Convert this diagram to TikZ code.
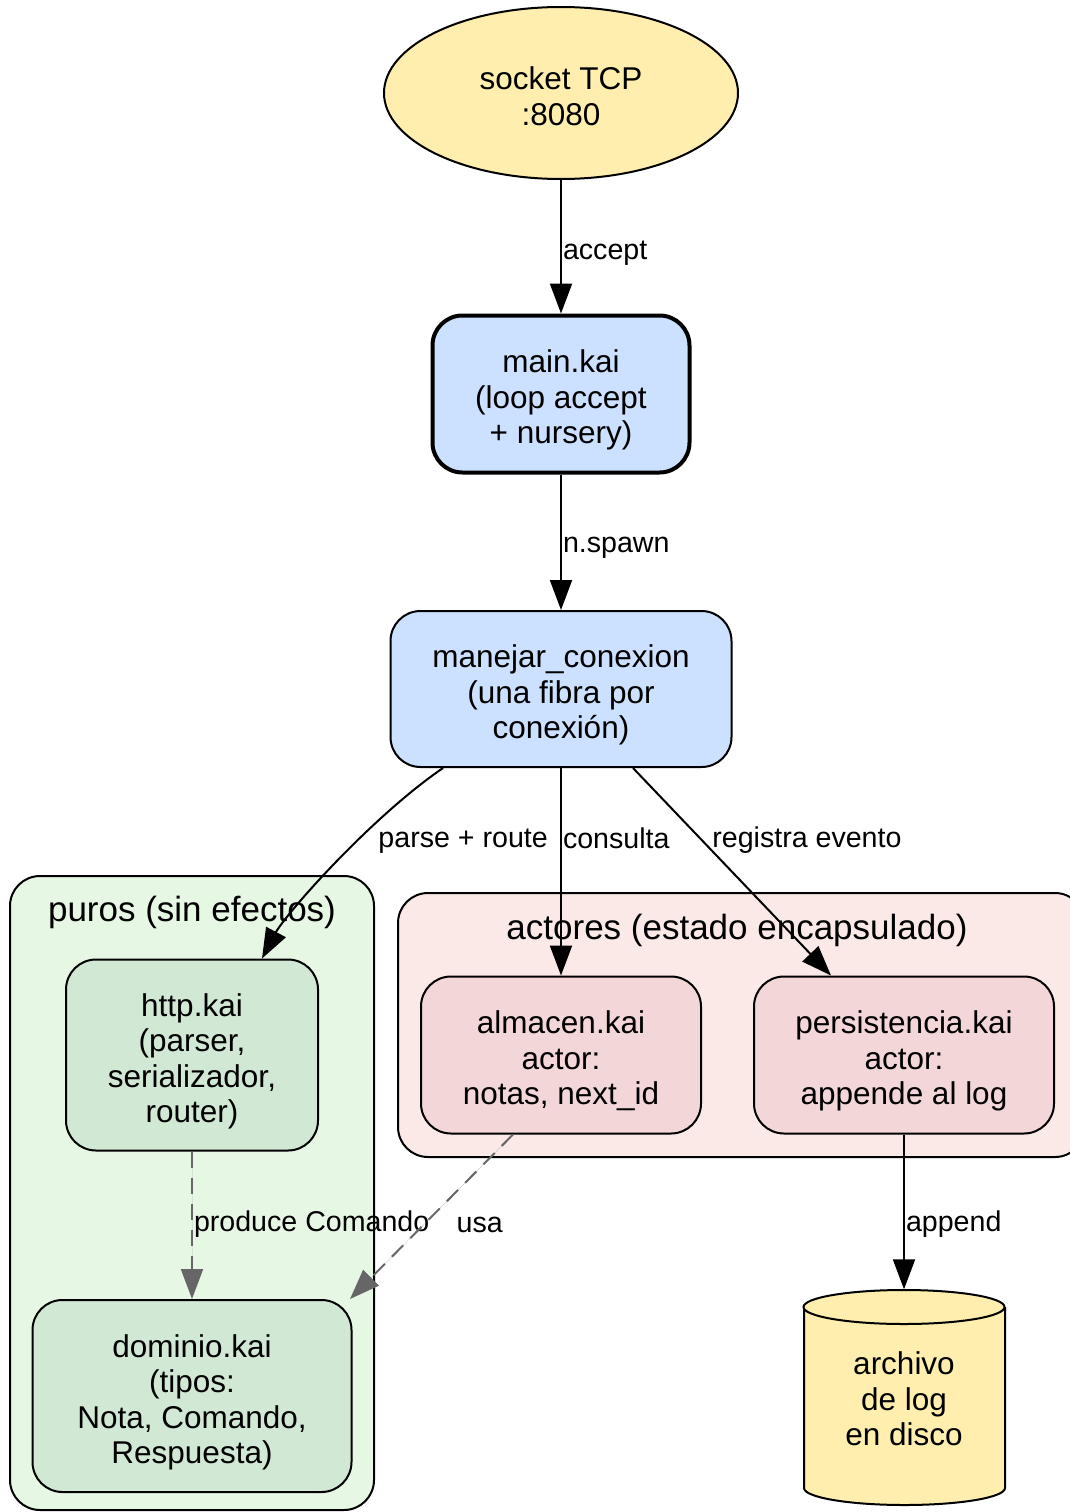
\documentclass[tikz,border=0pt]{standalone}
\usepackage{fontspec}
\setmainfont{Liberation Sans}
\usetikzlibrary{shapes.geometric,arrows.meta}
\definecolor{amarillo}{HTML}{FFEEAD}
\definecolor{azul}{HTML}{CCE0FF}
\definecolor{verdeclu}{HTML}{E6F7E4}
\definecolor{verde}{HTML}{D1E9D4}
\definecolor{rosaclu}{HTML}{FAE9E6}
\definecolor{rosa}{HTML}{F3D6D8}
\definecolor{gris}{HTML}{666666}
% baja un poco la primera linea del texto
\newcommand\alto[1][35pt]{\rule{0pt}{#1}}

\tikzset{
  txt/.style={align=center, inner sep=0pt, font=\fontsize{31.5}{35.5}\selectfont},
  mod/.style={draw, line width=2pt, rounded corners=30pt, txt},
  clu/.style={draw, line width=2pt, rounded corners=30pt},
  clutit/.style={font=\fontsize{35}{40}\selectfont, inner sep=0pt},
  lab/.style={font=\fontsize{28.6}{32}\selectfont, inner sep=1pt},
  edge/.style={line width=2pt, -{Triangle[length=30pt,width=22pt]}},
  dep/.style={edge, draw=gris, fill=gris, dash pattern=on 16pt off 10pt}
}

\begin{document}
\begin{tikzpicture}[x=1pt,y=-1pt]
\useasboundingbox (0,0) rectangle (1070,1512);
\clip (0,0) rectangle (1070,1512);
% grupos
\draw[clu, fill=verdeclu] (10,876) rectangle (374,1510);
\node[clutit] (tpuros) at (192,912) {puros (sin efectos)};
\draw[clu, fill=rosaclu] (398,893) rectangle (1085,1157);
\node[clutit] (tactores) at (737,930) {actores (estado encapsulado)};

% nodos
\node[ellipse, draw, line width=2pt, fill=amarillo, minimum width=354pt, minimum height=172pt,
  txt] (sock) at (561,93) {\alto[29pt]socket TCP\\:8080};
\node[mod, fill=azul, line width=4pt, minimum width=257pt, minimum height=157pt] (mainkai) at (561,394) {\alto main.kai\\(loop accept\\+ nursery)};
\node[mod, fill=azul, minimum width=341pt, minimum height=156pt] (manejar) at (561,689) {\alto manejar\_conexion\\(una fibra por\\conexión)};
\node[mod, fill=verde, minimum width=252pt, minimum height=191pt] (http) at (192,1055) {\alto http.kai\\(parser,\\serializador,\\router)};
\node[mod, fill=verde, minimum width=319pt, minimum height=192pt] (dominio) at (192,1396) {\alto dominio.kai\\(tipos:\\Nota, Comando,\\Respuesta)};
\node[mod, fill=rosa, minimum width=280pt, minimum height=157pt] (almacen) at (561,1055) {\alto almacen.kai\\actor:\\notas, next\_id};
\node[mod, fill=rosa, minimum width=300pt, minimum height=157pt] (persist) at (904,1055) {\alto persistencia.kai\\actor:\\appende al log};

% disco (cilindro)
\draw[line width=2pt, fill=amarillo] (804,1307) -- (804,1488) arc[start angle=180, end angle=0, x radius=100.5, y radius=17] -- (1005,1307);
\draw[line width=2pt, fill=amarillo] (904,1307) ellipse[x radius=100.5, y radius=17];
\node[txt, minimum width=201pt, minimum height=215pt] (disco) at (904,1397) {\alto[27pt]archivo\\de log\\en disco};

% conexiones
\draw[edge] (sock) -- node[lab, anchor=west, yshift=-6pt] {accept} (mainkai);
\draw[edge] (mainkai) -- node[lab, anchor=west, yshift=-6pt] {n.spawn} (manejar);
\draw[edge] ([xshift=-118pt]manejar.south) .. controls (370,818) and (285,915) .. ([xshift=70pt]http.north);
\node[lab, anchor=east] (lparse) at (549,841) {parse + route};
\draw[edge] (manejar) -- node[lab, anchor=west, pos=.34] {consulta} (almacen);
\draw[edge] ([xshift=72pt]manejar.south) -- node[lab, anchor=west, pos=.34, xshift=10pt, yshift=-2pt] {registra evento} ([xshift=-73pt]persist.north);
\draw[dep] (http) -- node[lab, anchor=west, pos=.47, yshift=-3pt, text=black] {produce Comando} (dominio);
\draw[dep] ([xshift=-48pt]almacen.south) -- node[lab, anchor=west, pos=.53, xshift=28pt, yshift=-3pt, text=black] {usa} ([xshift=158pt]dominio.north);
\draw[edge] (persist) -- node[lab, anchor=west, pos=.56, yshift=-3pt] {append} (disco.north);
\end{tikzpicture}
\end{document}
